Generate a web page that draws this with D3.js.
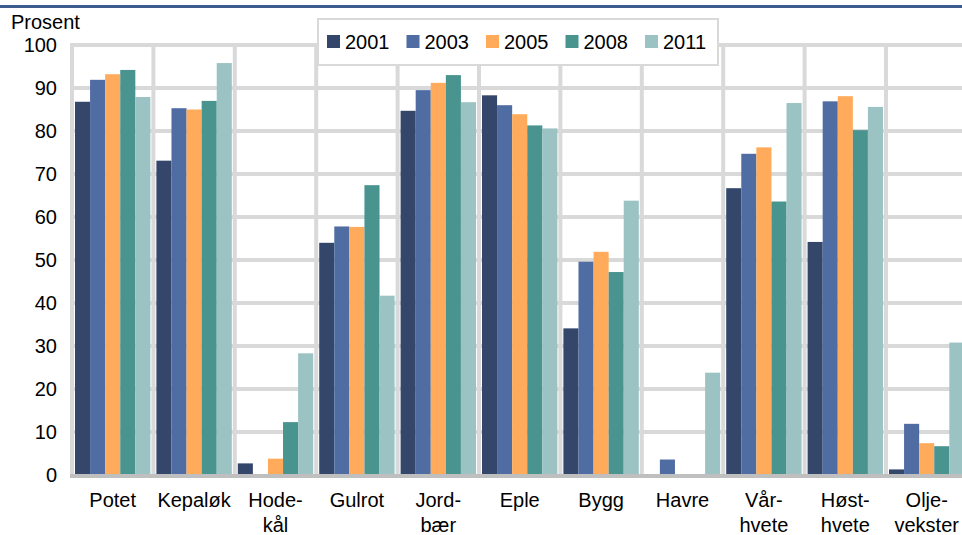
<!DOCTYPE html>
<html>
<head>
<meta charset="utf-8">
<script src="https://cdn.jsdelivr.net/npm/d3@7"></script>
<style>
  body { margin: 0; background: #fff; }
  svg { display: block; font-family: "Liberation Sans", Arial, sans-serif; }
</style>
</head>
<body>
<svg id="chart" width="962" height="535"></svg>
<script>
// categories (two-line labels split by "\n")
var categories = ["Potet", "Kepaløk", "Hode-\nkål", "Gulrot", "Jord-\nbær", "Eple", "Bygg", "Havre", "Vår-\nhvete", "Høst-\nhvete", "Olje-\nvekster"];
var years = ["2001", "2003", "2005", "2008", "2011"];
var yearColors = ["#34476b", "#4f6ca3", "#ffab5b", "#4a9490", "#9bc3c3"];

// values per year, one per category
var v2001 = [86.8, 73.1, 2.7, 54.0, 84.7, 88.3, 34.1, 0, 66.7, 54.2, 1.3];
var v2003 = [91.9, 85.3, 0, 57.8, 89.5, 86.0, 49.6, 3.6, 74.7, 86.9, 11.9];
var v2005 = [93.2, 85.0, 3.8, 57.7, 91.2, 83.9, 51.9, 0, 76.2, 88.1, 7.4];
var v2008 = [94.2, 87.0, 12.3, 67.4, 93.0, 81.3, 47.2, 0, 63.6, 80.2, 6.7];
var v2011 = [87.9, 95.8, 28.3, 41.7, 86.7, 80.6, 63.8, 23.8, 86.5, 85.6, 30.8];
var yTicks = [0, 10, 20, 30, 40, 50, 60, 70, 80, 90, 100];

var series = [v2001, v2003, v2005, v2008, v2011];

var svg = d3.select("#chart");
var plotLeft = 72, plotTop = 45, plotBottom = 475, catW = 81.4;
var fontSize = "20px";

var x0 = d3.scaleBand().domain(categories).range([plotLeft, plotLeft + catW * categories.length]);
var x1 = d3.scaleBand().domain(years).range([3, catW - 3]);
var y = d3.scaleLinear().domain([0, 100]).range([plotBottom, plotTop]);

// top rule
svg.append("rect").attr("x", 0).attr("y", 5).attr("width", 962).attr("height", 3).attr("fill", "#3e5b8e");

// horizontal gridlines
svg.append("g").selectAll("line").data(yTicks.slice(1)).enter().append("line")
    .attr("x1", plotLeft - 2).attr("x2", 962)
    .attr("y1", function (d) { return y(d); }).attr("y2", function (d) { return y(d); })
    .attr("stroke", "#d9d9d9").attr("stroke-width", 4);

// vertical gridlines at category boundaries
var bounds = categories.map(function (c) { return x0(c); });
svg.append("g").selectAll("line").data(bounds).enter().append("line")
    .attr("x1", function (d) { return d; }).attr("x2", function (d) { return d; })
    .attr("y1", plotTop - 2).attr("y2", plotBottom)
    .attr("stroke", "#d9d9d9").attr("stroke-width", 4);

// bars
var groups = svg.append("g").selectAll("g").data(categories).enter().append("g")
    .attr("transform", function (c) { return "translate(" + x0(c) + ",0)"; });
groups.selectAll("rect")
    .data(function (c, i) { return years.map(function (yr, j) { return { year: yr, j: j, v: series[j][i] }; }); })
    .enter().append("rect")
    .attr("x", function (d) { return x1(d.year); })
    .attr("width", x1.bandwidth())
    .attr("y", function (d) { return y(d.v); })
    .attr("height", function (d) { return y(0) - y(d.v); })
    .attr("fill", function (d) { return yearColors[d.j]; });

// x axis line
svg.append("line").attr("x1", plotLeft - 2).attr("x2", 962).attr("y1", plotBottom + 1).attr("y2", plotBottom + 1)
    .attr("stroke", "#bfbfbf").attr("stroke-width", 4);

// y axis (labels only)
var yAxis = d3.axisLeft(y).tickValues(yTicks).tickSize(0).tickPadding(0);
var yG = svg.append("g").attr("transform", "translate(57,0)").call(yAxis);
yG.select(".domain").remove();
yG.selectAll("text").attr("font-size", fontSize).attr("fill", "#000")
    .attr("font-family", "Liberation Sans, Arial, sans-serif");

svg.append("text").attr("x", 11).attr("y", 29).attr("font-size", fontSize).text("Prosent");

// x labels
var xl = svg.append("g").selectAll("text").data(categories).enter().append("text")
    .attr("x", function (c) { return x0(c) + catW / 2; })
    .attr("y", 507)
    .attr("text-anchor", "middle")
    .attr("font-size", fontSize);
xl.selectAll("tspan").data(function (c) { return c.split("\n"); }).enter().append("tspan")
    .attr("x", function () { return d3.select(this.parentNode).attr("x"); })
    .attr("dy", function (d, i) { return i === 0 ? 0 : 25; })
    .text(function (d) { return d; });

// legend
var lg = svg.append("g");
lg.append("rect").attr("x", 318).attr("y", 19).attr("width", 400).attr("height", 46)
    .attr("fill", "#fff").attr("stroke", "#d9d9d9").attr("stroke-width", 2);
var li = lg.selectAll("g.item").data(years).enter().append("g").attr("class", "item")
    .attr("transform", function (d, i) { return "translate(" + (327 + i * 79.5) + ",0)"; });
li.append("rect").attr("x", 0).attr("y", 35).attr("width", 13).attr("height", 13)
    .attr("fill", function (d, i) { return yearColors[i]; });
li.append("text").attr("x", 18).attr("y", 49).attr("font-size", fontSize).text(function (d) { return d; });
</script>
</body>
</html>
